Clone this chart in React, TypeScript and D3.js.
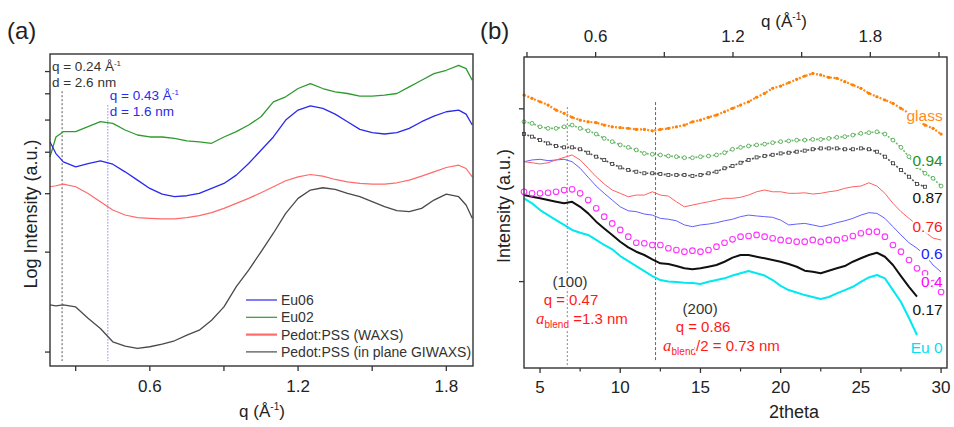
import React from 'react';
import * as d3 from 'd3';

const FONT = '"Liberation Sans", Arial, Helvetica, sans-serif';

// ---------- Panel (a): q (1/Å) vs log10 intensity ----------
const qA = [0.196, 0.22, 0.25, 0.30, 0.35, 0.40, 0.45, 0.50, 0.55, 0.60, 0.65, 0.70, 0.75, 0.80, 0.85, 0.90, 0.95, 1.00, 1.05, 1.10, 1.15, 1.20, 1.25, 1.30, 1.35, 1.40, 1.45, 1.50, 1.55, 1.60, 1.65, 1.70, 1.75, 1.80, 1.85, 1.88, 1.905];
const eu06 = [0.633, 0.598, 0.573, 0.558, 0.568, 0.576, 0.566, 0.543, 0.518, 0.493, 0.476, 0.468, 0.471, 0.478, 0.493, 0.508, 0.533, 0.568, 0.608, 0.648, 0.699, 0.729, 0.742, 0.734, 0.717, 0.694, 0.671, 0.661, 0.657, 0.661, 0.674, 0.694, 0.711, 0.724, 0.729, 0.717, 0.684];
const eu02 = [0.588, 0.648, 0.664, 0.664, 0.679, 0.694, 0.689, 0.669, 0.654, 0.648, 0.648, 0.644, 0.636, 0.633, 0.629, 0.648, 0.664, 0.684, 0.709, 0.754, 0.769, 0.794, 0.809, 0.794, 0.784, 0.779, 0.771, 0.771, 0.774, 0.779, 0.799, 0.819, 0.839, 0.849, 0.864, 0.854, 0.819];
const pedotWaxs = [0.498, 0.501, 0.506, 0.498, 0.478, 0.453, 0.428, 0.413, 0.405, 0.403, 0.401, 0.401, 0.405, 0.411, 0.420, 0.433, 0.448, 0.463, 0.480, 0.498, 0.516, 0.528, 0.535, 0.530, 0.520, 0.513, 0.508, 0.506, 0.506, 0.510, 0.518, 0.530, 0.543, 0.556, 0.563, 0.553, 0.528];
const pedotGiwaxs = [0.142, 0.139, 0.142, 0.136, 0.102, 0.071, 0.031, 0.018, 0.011, 0.016, 0.024, 0.034, 0.051, 0.066, 0.096, 0.136, 0.197, 0.247, 0.302, 0.358, 0.418, 0.463, 0.488, 0.495, 0.490, 0.478, 0.468, 0.453, 0.438, 0.426, 0.423, 0.433, 0.458, 0.476, 0.468, 0.443, 0.403];
const seriesANames = ['Eu06', 'Eu02', 'Pedot:PSS (WAXS)', 'Pedot:PSS (in plane GIWAXS)'];
const seriesAColors = ['#2a2aee', '#2f9a2f', '#ff6a6a', '#4a4a4a'];
const xTicksA = [0.3, 0.6, 0.9, 1.2, 1.5, 1.8];
const xLabelsA = [0.6, 1.2, 1.8];
const yTicksA = [1, 2, 3, 4, 5, 6, 7];

// ---------- Panel (b): 2theta vs intensity ----------
const tB = [4, 4.5, 5, 5.5, 6, 6.5, 7, 7.5, 8, 8.5, 9, 9.5, 10, 10.5, 11, 11.5, 12, 12.5, 13, 13.5, 14, 14.5, 15, 15.5, 16, 16.5, 17, 17.5, 18, 18.5, 19, 19.5, 20, 20.5, 21, 21.5, 22, 22.5, 23, 23.5, 24, 24.5, 25, 25.5, 26, 26.5, 27, 27.5, 28, 28.5, 29, 29.5, 30];
const glass = [2.080, 2.061, 2.041, 2.022, 1.993, 1.974, 1.951, 1.935, 1.925, 1.920, 1.906, 1.896, 1.891, 1.887, 1.881, 1.881, 1.873, 1.881, 1.887, 1.896, 1.906, 1.925, 1.935, 1.951, 1.964, 1.983, 2.003, 2.022, 2.041, 2.067, 2.090, 2.119, 2.132, 2.151, 2.171, 2.190, 2.205, 2.196, 2.182, 2.177, 2.157, 2.138, 2.119, 2.090, 2.070, 2.051, 2.032, 2.003, 1.974, 1.935, 1.906, 1.887, 1.854];
const eu094 = [1.925, 1.916, 1.896, 1.887, 1.887, 1.896, 1.906, 1.887, 1.873, 1.854, 1.829, 1.810, 1.791, 1.777, 1.762, 1.742, 1.737, 1.733, 1.727, 1.723, 1.717, 1.717, 1.723, 1.727, 1.733, 1.746, 1.766, 1.777, 1.785, 1.791, 1.796, 1.804, 1.810, 1.814, 1.819, 1.819, 1.823, 1.823, 1.829, 1.835, 1.839, 1.848, 1.858, 1.862, 1.867, 1.854, 1.819, 1.777, 1.723, 1.665, 1.627, 1.598, 1.553];
const eu087 = [1.854, 1.839, 1.819, 1.800, 1.785, 1.777, 1.777, 1.766, 1.746, 1.723, 1.704, 1.681, 1.661, 1.646, 1.636, 1.627, 1.627, 1.623, 1.617, 1.617, 1.617, 1.611, 1.617, 1.627, 1.636, 1.656, 1.669, 1.688, 1.704, 1.719, 1.727, 1.734, 1.742, 1.746, 1.752, 1.758, 1.766, 1.771, 1.771, 1.771, 1.766, 1.766, 1.771, 1.766, 1.752, 1.723, 1.685, 1.646, 1.607, 1.565, 1.549, null, null];
const eu076 = [1.694, 1.688, 1.681, 1.688, 1.704, 1.719, 1.733, 1.704, 1.656, 1.607, 1.565, 1.530, 1.511, 1.491, 1.501, 1.501, 1.520, 1.501, 1.495, 1.462, 1.433, 1.443, 1.453, 1.462, 1.472, 1.482, 1.482, 1.488, 1.501, 1.520, 1.530, 1.520, 1.520, 1.511, 1.511, 1.514, 1.507, 1.511, 1.520, 1.526, 1.540, 1.549, 1.553, 1.572, 1.553, 1.511, 1.453, 1.405, 1.366, 1.328, 1.287, 1.252, 1.241];
const eu06b = [1.694, 1.704, 1.708, 1.700, 1.704, 1.708, 1.694, 1.656, 1.604, 1.553, 1.511, 1.472, 1.433, 1.410, 1.405, 1.391, 1.385, 1.366, 1.361, 1.352, 1.328, 1.318, 1.328, 1.333, 1.341, 1.352, 1.361, 1.376, 1.385, 1.380, 1.376, 1.372, 1.356, 1.328, 1.333, 1.337, 1.328, 1.318, 1.328, 1.341, 1.352, 1.366, 1.385, 1.399, 1.395, 1.366, 1.318, 1.270, 1.225, 1.193, 1.154, 1.096, 1.056];
const eu04 = [1.520, 1.511, 1.511, 1.514, 1.520, 1.530, 1.534, 1.511, 1.472, 1.424, 1.376, 1.337, 1.299, 1.260, 1.225, 1.222, 1.212, 1.212, 1.193, 1.183, 1.173, 1.179, 1.173, 1.183, 1.202, 1.225, 1.245, 1.260, 1.264, 1.270, 1.260, 1.251, 1.241, 1.237, 1.231, 1.231, 1.241, 1.231, 1.241, 1.241, 1.251, 1.264, 1.280, 1.289, 1.289, 1.260, 1.212, 1.173, 1.125, 1.077, 1.048, 0.992, 0.940];
const eu017 = [1.501, 1.491, 1.482, 1.472, 1.462, 1.453, 1.462, 1.433, 1.395, 1.347, 1.308, 1.270, 1.231, 1.198, 1.173, 1.154, 1.129, 1.106, 1.102, 1.090, 1.077, 1.071, 1.077, 1.086, 1.096, 1.115, 1.139, 1.154, 1.154, 1.144, 1.135, 1.125, 1.115, 1.102, 1.086, 1.063, 1.057, 1.048, 1.063, 1.077, 1.090, 1.115, 1.135, 1.154, 1.167, 1.144, 1.096, 1.032, 0.970, 0.913, null, null, null];
const eu0 = [1.482, 1.453, 1.414, 1.385, 1.356, 1.328, 1.299, 1.283, 1.270, 1.241, 1.212, 1.187, 1.148, 1.119, 1.090, 1.061, 1.032, 1.009, 1.001, 0.998, 0.994, 0.992, 0.986, 0.999, 1.009, 1.019, 1.035, 1.048, 1.061, 1.048, 1.035, 1.009, 0.975, 0.951, 0.937, 0.922, 0.911, 0.899, 0.911, 0.932, 0.951, 0.970, 0.999, 1.024, 1.038, 1.019, 0.951, 0.882, 0.789, 0.691, null, null, null];
const labelsB = ['glass', '0.94', '0.87', '0.76', '0.6', '0.4', '0.17', 'Eu 0'];
const labelYB = [1.931, 1.671, 1.455, 1.289, 1.131, 0.969, 0.807, 0.587];
const labelColorsB = ['#ff8c1a', '#1f8f1f', '#111111', '#ff1a1a', '#1a1aff', '#ff00ff', '#111111', '#00e0f0'];
const xTicksB = [5, 10, 15, 20, 25, 30];
const xMinorB = [7.5, 12.5, 17.5, 22.5, 27.5];
const qTicksB = [0.3, 0.6, 0.9, 1.2, 1.5, 1.8, 2.1];
const qLabelsB = [0.6, 1.2, 1.8];
const yTicksB = [1, 2];

type Pt = [number, number | null];

export default function App() {
  // scales panel (a)
  const ax = d3.scaleLinear().domain([0.196, 1.908]).range([50, 473]);
  const ay = d3.scaleLinear().domain([-0.042, 0.898]).range([366, 54]);
  const lineA = d3.line<[number, number]>().x(d => ax(d[0])).y(d => ay(d[1]));
  const seriesA = [eu06, eu02, pedotWaxs, pedotGiwaxs];
  const drawOrderA = [3, 2, 1, 0];

  // scales panel (b)
  const bx = d3.scaleLinear().domain([4, 30.37]).range([524, 947]);
  const bq = d3.scaleLinear().domain([0.287, 2.135]).range([524, 947]);
  const by = d3.scaleLinear().domain([0.5, 2.3]).range([368, 57]);
  const lineB = d3.line<Pt>().defined(d => d[1] != null).x(d => bx(d[0])).y(d => by(d[1] as number));
  const pts = (vals: (number | null)[]): Pt[] => tB.map((t, i) => [t, vals[i]]);
  const defPts = (vals: (number | null)[]) => pts(vals).filter(d => d[1] != null) as [number, number][];

  const txt = { fontFamily: FONT };
  const halo = { paintOrder: 'stroke' as const, stroke: '#fff', strokeWidth: 4, strokeLinejoin: 'round' as const };

  return (
    <svg width={954} height={427} style={{ position: 'absolute', left: 0, top: 0, background: '#fff' }}>
      <rect x={0} y={0} width={954} height={427} fill="#fff" />
      {/* ================= Panel (a) ================= */}
      <text x={7} y={39} fontSize={24} style={txt} fill="#222">(a)</text>
      {/* peak guide lines */}
      <line x1={ax(0.245)} x2={ax(0.245)} y1={ay(0.786)} y2={ay(-0.027)} stroke="#444" strokeWidth={0.9} strokeDasharray="2,2" />
      <line x1={ax(0.43)} x2={ax(0.43)} y1={ay(0.744)} y2={ay(-0.027)} stroke="#7a7aff" strokeWidth={0.9} strokeDasharray="1.5,1.5" />
      {drawOrderA.map(k => (
        <path key={k} d={lineA(qA.map((q, i) => [q, seriesA[k][i]]) as [number, number][]) || ''} fill="none"
          stroke={seriesAColors[k]} strokeWidth={k === 2 ? 1.2 : 1.3} strokeLinejoin="round" />
      ))}
      <rect x={50} y={54} width={423} height={312} fill="none" stroke="#333" strokeWidth={1.4} />
      {xTicksA.map(t => (
        <line key={t} x1={ax(t)} x2={ax(t)} y1={366} y2={371} stroke="#333" strokeWidth={1.3} />
      ))}
      {xLabelsA.map(t => (
        <text key={t} x={ax(t)} y={392} textAnchor="middle" fontSize={17} style={txt} fill="#222">{t.toFixed(1)}</text>
      ))}
      {yTicksA.map(t => (
        <line key={t} x1={45} x2={50} y1={ay(Math.log10(t))} y2={ay(Math.log10(t))} stroke="#333" strokeWidth={1.3} />
      ))}
      <text x={262} y={417} textAnchor="middle" fontSize={17} style={txt} fill="#222">q (Å<tspan dy={-7} fontSize={10}>-1</tspan><tspan dy={7}>)</tspan></text>
      <text transform="translate(37,214) rotate(-90)" textAnchor="middle" fontSize={18} style={txt} fill="#222">Log Intensity (a.u.)</text>
      {/* annotations */}
      <text x={ax(0.204)} y={ay(0.846)} fontSize={13.5} style={txt} fill="#333">q = 0.24 Å<tspan dy={-5} fontSize={8}>-1</tspan></text>
      <text x={ax(0.204)} y={ay(0.798)} fontSize={13.5} style={txt} fill="#333">d = 2.6 nm</text>
      <text x={ax(0.438)} y={ay(0.759)} fontSize={13.5} style={txt} fill="#2a2aee">q = 0.43 Å<tspan dy={-5} fontSize={8}>-1</tspan></text>
      <text x={ax(0.438)} y={ay(0.711)} fontSize={13.5} style={txt} fill="#2a2aee">d = 1.6 nm</text>
      {/* legend */}
      {seriesANames.map((n, i) => (
        <g key={n}>
          <line x1={246} x2={277} y1={300 + i * 17.3} y2={300 + i * 17.3} stroke={seriesAColors[i]} strokeWidth={i === 2 ? 2.2 : 1.2} />
          <text x={281} y={305 + i * 17.3} fontSize={14} style={txt} fill="#333">{n}</text>
        </g>
      ))}

      {/* ================= Panel (b) ================= */}
      <text x={480} y={39} fontSize={24} style={txt} fill="#222">(b)</text>
      <line x1={bx(6.7)} x2={bx(6.7)} y1={by(2.01)} y2={by(0.512)} stroke="#777" strokeWidth={0.9} strokeDasharray="2,2" />
      <line x1={bx(12.2)} x2={bx(12.2)} y1={by(2.039)} y2={by(0.535)} stroke="#555" strokeWidth={0.9} strokeDasharray="3,2" />

      {/* Eu 0 cyan */}
      <path d={lineB(pts(eu0)) || ''} fill="none" stroke="#00e8f0" strokeWidth={2} strokeLinejoin="round" />
      {/* 0.17 black thick */}
      <path d={lineB(pts(eu017)) || ''} fill="none" stroke="#111" strokeWidth={2} strokeLinejoin="round" />
      {/* 0.4 magenta open circles */}
      {defPts(eu04).map((d, i) => (
        <circle key={'m' + i} cx={bx(d[0])} cy={by(d[1])} r={2.8} fill="none" stroke="#ff33ff" strokeWidth={1.1} />
      ))}
      {/* 0.6 blue */}
      <path d={lineB(pts(eu06b)) || ''} fill="none" stroke="#6060ff" strokeWidth={1} strokeLinejoin="round" />
      {/* 0.76 red */}
      <path d={lineB(pts(eu076)) || ''} fill="none" stroke="#ff6060" strokeWidth={1} strokeLinejoin="round" />
      {/* 0.87 black open squares */}
      <path d={lineB(pts(eu087)) || ''} fill="none" stroke="#555" strokeWidth={1.6} strokeDasharray="2,1.5" />
      {defPts(eu087).map((d, i) => (
        <rect key={'s' + i} x={bx(d[0]) - 1.5} y={by(d[1]) - 1.5} width={3} height={3} fill="#fff" stroke="#333" strokeWidth={0.8} />
      ))}
      {/* 0.94 green open circles */}
      <path d={lineB(pts(eu094)) || ''} fill="none" stroke="#6cbf6c" strokeWidth={1.6} strokeDasharray="2,1.5" />
      {defPts(eu094).map((d, i) => (
        <circle key={'g' + i} cx={bx(d[0])} cy={by(d[1])} r={1.9} fill="#fff" stroke="#3f9f3f" strokeWidth={0.8} />
      ))}
      {/* glass orange dots */}
      <path d={lineB(pts(glass)) || ''} fill="none" stroke="#ff8a1a" strokeWidth={2.2} strokeDasharray="2,1.6" />
      {defPts(glass).map((d, i) => (
        <circle key={'o' + i} cx={bx(d[0])} cy={by(d[1])} r={1.6} fill="#ff8000" />
      ))}

      {/* frame and axes */}
      <rect x={524} y={57} width={423} height={311} fill="none" stroke="#333" strokeWidth={1.4} />
      {xTicksB.map(t => (
        <g key={t}>
          <line x1={bx(t)} x2={bx(t)} y1={368} y2={373} stroke="#333" strokeWidth={1.3} />
          <text x={bx(t)} y={393} textAnchor="middle" fontSize={17} style={txt} fill="#222">{t}</text>
        </g>
      ))}
      {xMinorB.map(t => (
        <line key={t} x1={bx(t)} x2={bx(t)} y1={368} y2={371.5} stroke="#333" strokeWidth={1.2} />
      ))}
      {qTicksB.map(q => (
        <line key={q} x1={bq(q)} x2={bq(q)} y1={57} y2={52} stroke="#333" strokeWidth={1.3} />
      ))}
      {qLabelsB.map(q => (
        <text key={q} x={bq(q)} y={42} textAnchor="middle" fontSize={17} style={txt} fill="#222">{q.toFixed(1)}</text>
      ))}
      {yTicksB.map(v => (
        <line key={v} x1={519} x2={524} y1={by(v)} y2={by(v)} stroke="#333" strokeWidth={1.3} />
      ))}
      <text x={784} y={27} textAnchor="middle" fontSize={17} style={txt} fill="#222">q (Å<tspan dy={-7} fontSize={10}>-1</tspan><tspan dy={7}>)</tspan></text>
      <text x={794} y={418} textAnchor="middle" fontSize={18} style={txt} fill="#222">2theta</text>
      <text transform="translate(510,206) rotate(-90)" textAnchor="middle" fontSize={18} style={txt} fill="#222">Intensity (a.u.)</text>

      {/* series labels */}
      {labelsB.map((l, i) => (
        <text key={l} x={bx(30.1)} y={by(labelYB[i])} textAnchor="end" fontSize={15.5} style={{ ...txt, ...halo }} fill={labelColorsB[i]}>{l}</text>
      ))}

      {/* peak annotations */}
      <text x={bx(6.87)} y={by(0.969)} textAnchor="middle" fontSize={15} style={{ ...txt, ...halo }} fill="#333">(100)</text>
      <text x={bx(6.93)} y={by(0.865)} textAnchor="middle" fontSize={15} style={{ ...txt, ...halo }} fill="#ff1a1a">q = 0.47</text>
      <text x={bx(4.75)} y={by(0.755)} fontSize={15} style={{ ...txt, ...halo }} fill="#ff1a1a">
        <tspan fontStyle="italic" fontFamily='"Liberation Serif", "Times New Roman", serif' fontSize={17}>a</tspan>
        <tspan fontSize={10} dy={4}>blend</tspan>
        <tspan dy={-4}> =1.3 nm</tspan>
      </text>
      <text x={bx(14.98)} y={by(0.812)} textAnchor="middle" fontSize={15} style={{ ...txt, ...halo }} fill="#333">(200)</text>
      <text x={bx(15.16)} y={by(0.708)} textAnchor="middle" fontSize={15} style={{ ...txt, ...halo }} fill="#ff1a1a">q = 0.86</text>
      <text x={bx(12.67)} y={by(0.598)} fontSize={15} style={{ ...txt, ...halo }} fill="#ff1a1a">
        <tspan fontStyle="italic" fontFamily='"Liberation Serif", "Times New Roman", serif' fontSize={17}>a</tspan>
        <tspan fontSize={10} dy={4}>blend</tspan>
        <tspan dy={-4}>/2 = 0.73 nm</tspan>
      </text>
    </svg>
  );
}
